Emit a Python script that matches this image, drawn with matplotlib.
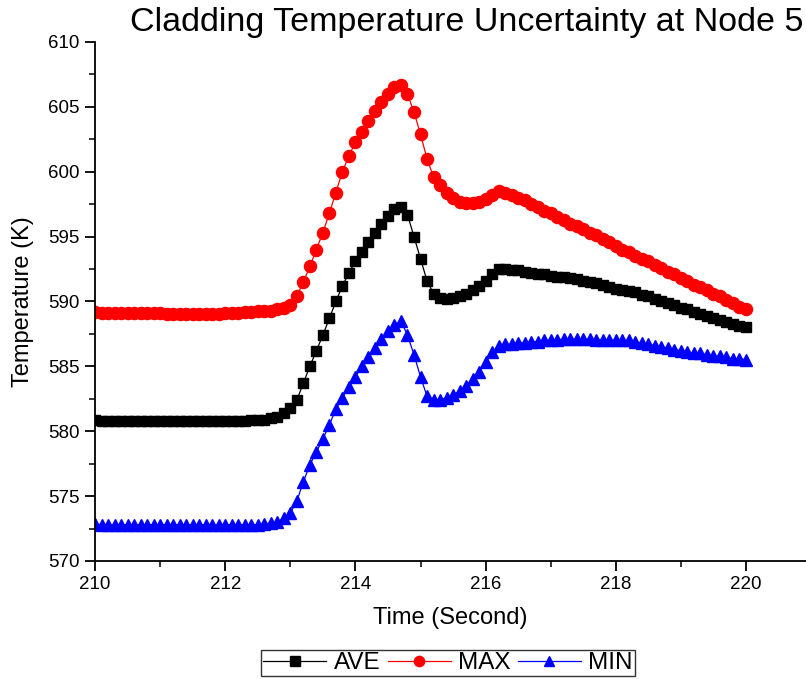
import numpy as np
import matplotlib
matplotlib.use("Agg")
import matplotlib.pyplot as plt
from matplotlib.ticker import MultipleLocator

time = np.round(210.0 + 0.1 * np.arange(101), 1)

ave = [580.9, 580.8, 580.8, 580.8, 580.8, 580.8, 580.8, 580.8, 580.8, 580.8,
       580.8, 580.8, 580.8, 580.8, 580.8, 580.8, 580.8, 580.8, 580.8, 580.8,
       580.8, 580.8, 580.8, 580.8, 580.85, 580.9, 580.9, 581.0, 581.1, 581.4,
       581.8, 582.4, 583.7, 585.0, 586.2, 587.4, 588.7, 590.0, 591.2, 592.2,
       593.1, 593.8, 594.6, 595.3, 596.0, 596.6, 597.1, 597.3, 596.7, 595.0,
       593.3, 591.6, 590.6, 590.3, 590.2, 590.3, 590.4, 590.6, 590.9, 591.2,
       591.6, 592.1, 592.5, 592.5, 592.4, 592.4, 592.3, 592.2, 592.1, 592.1,
       592.0, 591.9, 591.9, 591.8, 591.7, 591.6, 591.5, 591.4, 591.3, 591.1,
       591.0, 590.9, 590.8, 590.7, 590.5, 590.4, 590.2, 590.0, 589.9, 589.7,
       589.5, 589.4, 589.2, 589.0, 588.9, 588.7, 588.6, 588.4, 588.3, 588.1,
       588.0]

tmax = [589.2, 589.1, 589.1, 589.1, 589.1, 589.1, 589.1, 589.1, 589.1, 589.1,
        589.1, 589.05, 589.05, 589.05, 589.05, 589.05, 589.05, 589.05, 589.05, 589.05,
        589.1, 589.1, 589.15, 589.2, 589.2, 589.25, 589.3, 589.3, 589.4, 589.5,
        589.7, 590.4, 591.5, 592.7, 594.0, 595.3, 596.8, 598.4, 600.0, 601.2,
        602.3, 603.1, 603.9, 604.7, 605.4, 606.0, 606.5, 606.7, 606.0, 604.6,
        602.9, 601.0, 599.6, 599.0, 598.4, 598.0, 597.7, 597.6, 597.6, 597.7,
        597.9, 598.2, 598.5, 598.4, 598.2, 598.0, 597.8, 597.5, 597.3, 597.0,
        596.8, 596.5, 596.3, 596.0, 595.8, 595.6, 595.3, 595.1, 594.8, 594.6,
        594.3, 594.0, 593.8, 593.5, 593.3, 593.1, 592.8, 592.6, 592.3, 592.1,
        591.8, 591.6, 591.3, 591.1, 590.9, 590.6, 590.4, 590.1, 589.9, 589.6,
        589.4]

tmin = [572.85, 572.8, 572.8, 572.8, 572.8, 572.8, 572.8, 572.8, 572.8, 572.8,
        572.8, 572.8, 572.8, 572.8, 572.8, 572.8, 572.8, 572.8, 572.8, 572.8,
        572.8, 572.8, 572.8, 572.8, 572.8, 572.8, 572.85, 572.9, 573.0, 573.3,
        573.7, 574.6, 576.1, 577.4, 578.4, 579.4, 580.5, 581.7, 582.6, 583.4,
        584.2, 585.0, 585.7, 586.4, 587.1, 587.7, 588.2, 588.5, 587.4, 585.9,
        584.2, 582.7, 582.4, 582.4, 582.6, 582.8, 583.1, 583.5, 584.0, 584.6,
        585.3, 586.1, 586.6, 586.7, 586.7, 586.8, 586.8, 586.9, 586.9, 587.0,
        587.0, 587.0, 587.1, 587.1, 587.1, 587.1, 587.1, 587.05, 587.05, 587.0,
        587.0, 587.0, 587.0, 586.9, 586.8, 586.7, 586.6, 586.5, 586.4, 586.3,
        586.2, 586.1, 586.0, 586.0, 585.9, 585.8, 585.8, 585.7, 585.6, 585.6,
        585.5]

series_names = ["AVE", "MAX", "MIN"]
title = "Cladding Temperature Uncertainty at Node 5"
xlabel = "Time (Second)"
ylabel = "Temperature (K)"

plt.rcParams['font.family'] = ['Liberation Sans', 'DejaVu Sans']

W, H = 806, 679
fig = plt.figure(figsize=(W / 100, H / 100), dpi=100)
ax = fig.add_axes([95 / W, (H - 561) / H, 711 / W, 519 / H])

ax.plot(time, ave, color='black', lw=0.9, marker='s', ms=7.8, mec='black', mfc='black', label=series_names[0])
ax.plot(time, tmax, color='red', lw=0.9, marker='o', ms=8.7, mec='red', mfc='red', label=series_names[1])
ax.plot(time, tmin, color='blue', lw=0.9, marker='^', ms=8.7, mec='blue', mfc='blue', label=series_names[2])

ax.set_xlim(210, 210 + 711 / 65.1)
ax.set_ylim(570, 610)
ax.xaxis.set_major_locator(MultipleLocator(2))
ax.xaxis.set_minor_locator(MultipleLocator(1))
ax.yaxis.set_major_locator(MultipleLocator(5))
ax.yaxis.set_minor_locator(MultipleLocator(2.5))
ax.spines['top'].set_visible(False)
ax.spines['right'].set_visible(False)
for s in ('left', 'bottom'):
    ax.spines[s].set_linewidth(1.3)
ax.tick_params(which='major', direction='out', length=7, width=1.3, labelsize=13.5, pad=4)
ax.tick_params(which='minor', direction='out', length=4, width=1.1)

ax.set_xlabel(xlabel, fontsize=17, labelpad=10)
ax.set_ylabel(ylabel, fontsize=17, labelpad=10)

fig.text(467 / W, 1 - 23 / H, title, fontsize=24.5, ha='center', va='center')

leg = fig.legend(loc='center', bbox_to_anchor=(448 / W, 1 - 663 / H), ncol=3,
                 fontsize=17.5, frameon=True, fancybox=False, edgecolor='black',
                 handlelength=2.6, handletextpad=0.3, columnspacing=0.3,
                 borderpad=0.1, markerscale=0.85)
leg.get_frame().set_linewidth(1.0)

fig.savefig("out.png", dpi=100)
